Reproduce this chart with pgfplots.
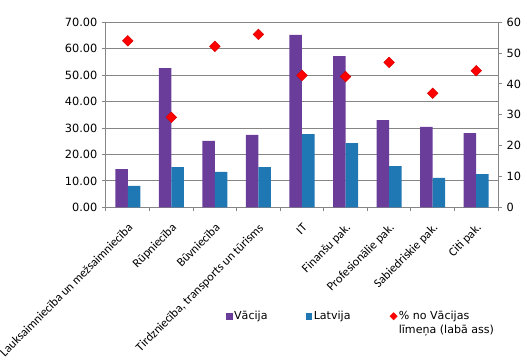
\documentclass[border=0pt]{standalone}
\usepackage{pgfplots}
\pgfplotsset{compat=1.18}
\usepackage{fontspec}
\setmainfont{DejaVu Sans}
\newfontfamily\catfont{Carlito}
\definecolor{cvac}{RGB}{106,61,154}
\definecolor{clat}{RGB}{31,119,180}
\definecolor{cgrid}{RGB}{134,134,134}
\begin{document}
\begin{tikzpicture}
\pgfplotsset{
 base/.style={
  scale only axis, width=294pt, height=138.75pt,
  xmin=-0.5, xmax=8.5,
  axis line style={cgrid, line width=0.75pt, -},
  tick style={cgrid, line width=0.75pt},
  tick align=outside,
  major tick length=3pt, minor tick length=3pt,
  /pgf/number format/assume math mode=true,
  every tick label/.append style={font=\fontsize{8.5}{10}\selectfont},
 }
}
\begin{axis}[base,
  axis x line*=bottom, axis y line*=left,
  ymin=0, ymax=70, ytick={0,10,...,70},
  ymajorgrids, grid style={cgrid, line width=0.75pt},
  yticklabel style={/pgf/number format/fixed, /pgf/number format/fixed zerofill, /pgf/number format/precision=2},
  xtick={0,...,8}, major x tick style={draw=none},
  minor xtick={-0.5,0.5,...,8.5},
  xticklabels={Lauksaimniecība un mežsaimniecība, Rūpniecība, Būvniecība, {Tirdzniecība, transports un tūrisms}, IT, Finanšu pak., Profesionālie pak., Sabiedriskie pak., Citi pak.},
  xticklabel style={font=\catfont\fontsize{9.3}{11}\selectfont, rotate=45, anchor=north east, inner sep=0pt, text height=0.75em, text depth=0.25em, xshift=-6pt, yshift=-4.5pt},
  ybar=0pt, bar width=9.375pt,
  legend columns=3,
  legend style={at={(0.295,-0.535)}, anchor=north west, draw=none, fill=none, font=\fontsize{8.3}{10}\selectfont, nodes={inner sep=1pt}},
  legend cell align=left,
]
\addplot[fill=cvac, draw=none, legend image code/.code={\fill[cvac] (0pt,-2.6pt) rectangle (5.2pt,2.6pt);}] coordinates {(0,14.5) (1,52.7) (2,25.1) (3,27.4) (4,65.3) (5,57.2) (6,33.0) (7,30.4) (8,28.1)};
\addlegendentry{\makebox[52.5pt][l]{Vācija}}
\addplot[fill=clat, draw=none, legend image code/.code={\fill[clat] (0pt,-2.6pt) rectangle (5.2pt,2.6pt);}] coordinates {(0,8.1) (1,15.25) (2,13.4) (3,15.25) (4,27.7) (5,24.3) (6,15.6) (7,11.1) (8,12.6)};
\addlegendentry{\makebox[56pt][l]{Latvija}}
\addlegendimage{legend image code/.code={\fill[red] (0pt,0pt) -- (2.7pt,2.7pt) -- (5.4pt,0pt) -- (2.7pt,-2.7pt) -- cycle;}}
\addlegendentry{\begin{tabular}[t]{@{}l@{}}\% no Vācijas\\līmeņa (labā ass)\end{tabular}}
\end{axis}
\begin{axis}[base,
  axis y line*=right, axis x line=none,
  ymin=0, ymax=60, ytick={0,10,...,60},
  xtick=\empty,
]
\addplot[only marks, mark=square*, mark size=2.8pt, mark options={rotate=45, fill=red, draw=red!85!black, line width=0.4pt}] coordinates {(0,54.0) (1,29.2) (2,52.2) (3,56.1) (4,42.8) (5,42.4) (6,47.0) (7,37.0) (8,44.3)};
\end{axis}
\pgfresetboundingbox
\path (-79.5pt,-114.5pt) rectangle (315.75pt,155.5pt);
\end{tikzpicture}
\end{document}
